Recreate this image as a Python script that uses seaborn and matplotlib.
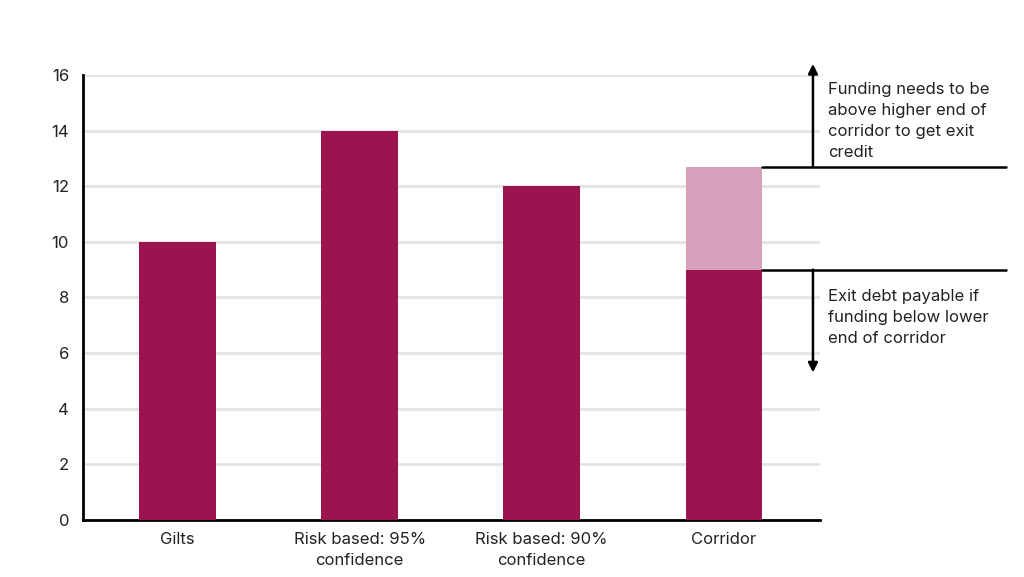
import pandas as pd
import matplotlib.pyplot as plt
import seaborn as sns

# Chart data
categories = ['Gilts', 'Risk based: 95%\nconfidence', 'Risk based: 90%\nconfidence', 'Corridor']
base_values = [10, 14, 12, 9]
upper_segment = [0, 0, 0, 3.7]
corridor_low = 9
corridor_high = 12.7
arrow_up_end = 16.4
arrow_down_end = 5.3

DARK = '#9b1450'
LIGHT = '#d6a0ba'
TEXT = '#222222'

sns.set_theme(style="white")
plt.rcParams['font.family'] = ['Inter', 'DejaVu Sans']

df = pd.DataFrame({
    'category': categories,
    'base': base_values,
    'total': [b + u for b, u in zip(base_values, upper_segment)],
})

fig = plt.figure(figsize=(10.24, 5.77), dpi=100)
ax = fig.add_axes([0.081, 0.099, 0.72, 0.771])

ax.set_axisbelow(True)
ax.yaxis.grid(True, color='#e3e3e3', linewidth=2)

sns.barplot(x='category', y='total', data=df, color=LIGHT, width=0.42,
            saturation=1, linewidth=0, ax=ax, zorder=2)
sns.barplot(x='category', y='base', data=df, color=DARK, width=0.42,
            saturation=1, linewidth=0, ax=ax, zorder=3)

ax.set_ylim(0, 16)
ax.set_xlim(-0.52, 3.53)
ax.set_yticks(range(0, 17, 2))
ax.set_xlabel('')
ax.set_ylabel('')
ax.tick_params(axis='both', length=0, labelsize=12, colors=TEXT)
ax.tick_params(axis='y', pad=10)
ax.tick_params(axis='x', pad=9)
for lab in ax.get_xticklabels():
    lab.set_linespacing(1.45)

for side in ['top', 'right']:
    ax.spines[side].set_visible(False)
for side in ['left', 'bottom']:
    ax.spines[side].set_color('black')
    ax.spines[side].set_linewidth(2)

# Corridor boundary lines
x_start = 3.21
x_end = 4.55
x_arrow = 3.49
for yv in [corridor_low, corridor_high]:
    ax.plot([x_start, x_end], [yv, yv], color='black', linewidth=1.8,
            clip_on=False, zorder=4)

for y_end, y_start in [(arrow_up_end, corridor_high), (arrow_down_end, corridor_low)]:
    ax.annotate('', xy=(x_arrow, y_end), xytext=(x_arrow, y_start),
                arrowprops=dict(arrowstyle='-|>', color='black', lw=1.8,
                                mutation_scale=14, shrinkA=0, shrinkB=0),
                annotation_clip=False)

ax.text(3.573, 15.75, 'Funding needs to be\nabove higher end of\ncorridor to get exit\ncredit',
        ha='left', va='top', fontsize=12, linespacing=1.5, color=TEXT,
        clip_on=False)
ax.text(3.573, 8.3, 'Exit debt payable if\nfunding below lower\nend of corridor',
        ha='left', va='top', fontsize=12, linespacing=1.5, color=TEXT,
        clip_on=False)

fig.savefig('out.png', dpi=100)
plt.close(fig)
